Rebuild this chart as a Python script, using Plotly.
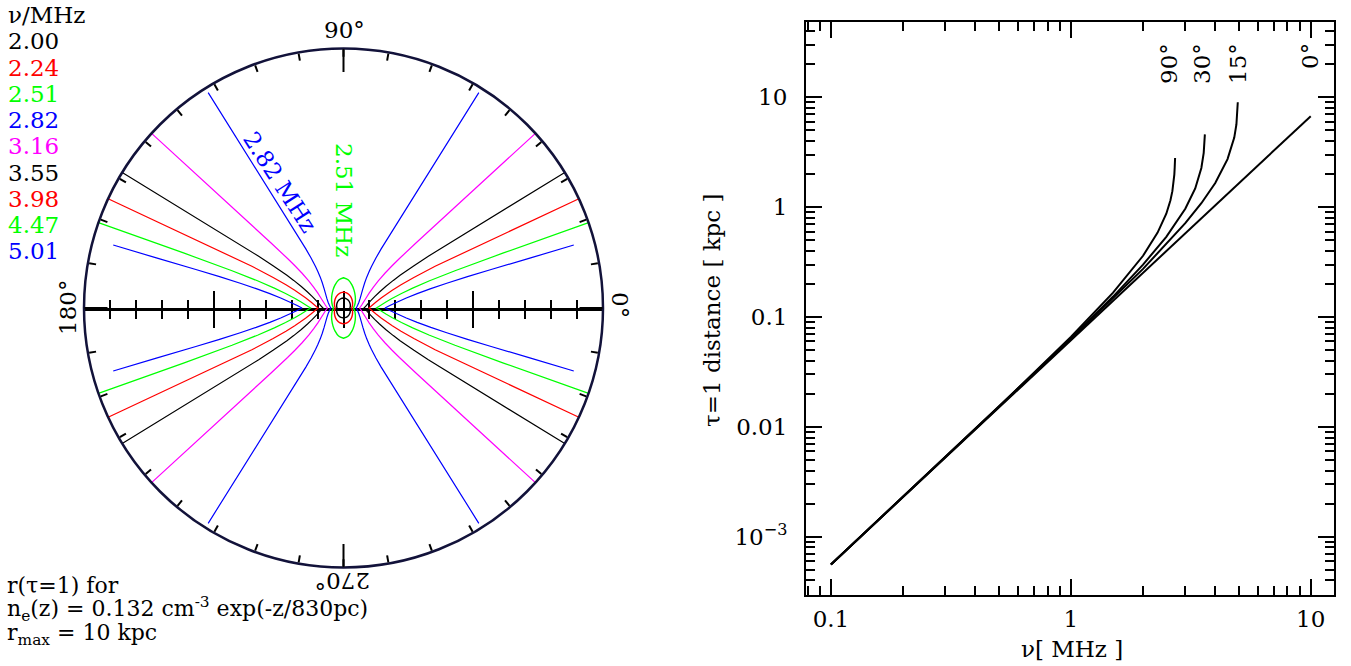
import plotly.graph_objects as go

W, H = 1351, 666
FONT = "DejaVu Serif"

# ---------------- data: left panel (polar, r in kpc vs elevation angle in deg) ----------------
freq_labels = ["2.00", "2.24", "2.51", "2.82", "3.16", "3.55", "3.98", "4.47", "5.01"]
freq_colors = ["black", "red", "#00ff00", "blue", "#ff00ff", "black", "red", "#00ff00", "blue"]

th_200 = [0, 15, 30, 45, 60, 75, 90]
r_200 = [0.25, 0.272, 0.298, 0.326, 0.353, 0.375, 0.383]
th_224 = [0, 15, 30, 45, 60, 75, 90]
r_224 = [0.32, 0.357, 0.404, 0.462, 0.528, 0.587, 0.612]
th_251 = [0, 15, 30, 45, 60, 70, 80, 90]
r_251 = [0.39, 0.447, 0.527, 0.641, 0.806, 0.948, 1.094, 1.166]
th_282 = [0, 5, 10, 20, 30, 40, 45, 50, 53, 55, 56, 57, 57.5, 57.85]
r_282 = [0.49, 0.517, 0.548, 0.628, 0.741, 0.919, 1.057, 1.272, 1.488, 1.731, 1.929, 2.294, 2.69, 9.8]
th_316 = [0, 5, 10, 20, 25, 30, 35, 38, 40, 41, 41.5, 41.9, 42.3]
r_316 = [0.62, 0.664, 0.718, 0.868, 0.980, 1.141, 1.407, 1.701, 2.083, 2.481, 2.878, 3.75, 10.0]
th_355 = [0, 5, 10, 15, 20, 24, 27, 29, 30, 31, 31.4, 31.5]
r_355 = [0.79, 0.864, 0.959, 1.088, 1.277, 1.518, 1.825, 2.194, 2.517, 3.168, 3.83, 10.0]
th_398 = [0, 5, 10, 15, 18, 20, 22, 23.5, 24.5, 24.9]
r_398 = [0.98, 1.098, 1.261, 1.515, 1.757, 2.0, 2.392, 2.956, 3.88, 10.0]
th_447 = [0, 4, 8, 11, 14, 16, 17.5, 18.5, 19.0, 19.2]
r_447 = [1.267, 1.425, 1.65, 1.9, 2.301, 2.773, 3.453, 4.531, 6.52, 10.0]
th_501 = [0, 3, 6, 9, 11, 12.5, 13.5, 14.2, 14.6, 15.0, 15.3]
r_501 = [1.6, 1.787, 2.048, 2.451, 2.893, 3.447, 4.092, 4.928, 5.88, 7.5, 9.2]

closed_curves = [(th_200, r_200), (th_224, r_224), (th_251, r_251)]
open_curves = [(th_282, r_282), (th_316, r_316), (th_355, r_355),
               (th_398, r_398), (th_447, r_447), (th_501, r_501)]

r_max = 10

# ---------------- data: right panel (tau=1 distance vs frequency) ----------------
nu_0 = [0.1, 0.2, 0.5, 1, 2, 5, 10]
r_0 = [5.6e-4, 2.3e-3, 0.0150, 0.0614, 0.252, 1.64, 6.73]
nu_15 = [0.1, 0.5, 1, 2, 3, 3.5, 4, 4.5, 4.8, 4.9, 4.95, 4.965]
r_15 = [5.6e-4, 0.0150, 0.0626, 0.2744, 0.714, 1.085, 1.66, 2.736, 4.30, 5.65, 7.46, 9.0]
nu_30 = [0.1, 0.5, 1, 1.5, 2, 2.5, 3, 3.3, 3.5, 3.58, 3.61, 3.62]
r_30 = [5.6e-4, 0.0151, 0.0637, 0.1535, 0.2995, 0.537, 0.967, 1.48, 2.27, 3.12, 4.03, 4.6]
nu_90 = [0.1, 0.5, 1, 1.5, 2, 2.3, 2.5, 2.6, 2.65, 2.68, 2.70, 2.71, 2.715, 2.72]
r_90 = [5.6e-4, 0.0152, 0.0658, 0.1666, 0.361, 0.586, 0.872, 1.148, 1.398, 1.657, 1.98, 2.30, 2.61, 2.8]
angle_labels = ["90°", "30°", "15°", "0°"]

fig = go.Figure()

# ---- left panel curves (mirrored into the four quadrants) ----
for i, (th, r) in enumerate(closed_curves):
    c = freq_colors[i]
    theta = list(th) + [180 - t for t in th[::-1]] + [180 + t for t in th] + [360 - t for t in th[::-1]]
    rr = list(r) + list(r[::-1]) + list(r) + list(r[::-1])
    fig.add_trace(go.Scatterpolar(r=rr, theta=theta, mode="lines", subplot="polar",
                                  line=dict(color=c, width=1.4, shape="spline"),
                                  showlegend=False, hoverinfo="skip"))
for j, (th, r) in enumerate(open_curves):
    c = freq_colors[3 + j]
    right_t = [t for t in th[::-1]] + [-t for t in th[1:]]
    left_t = [180 - t for t in th[::-1]] + [180 + t for t in th[1:]]
    rr = list(r[::-1]) + list(r[1:])
    for tt in (right_t, left_t):
        fig.add_trace(go.Scatterpolar(r=rr, theta=tt, mode="lines", subplot="polar",
                                      line=dict(color=c, width=1.2),
                                      showlegend=False, hoverinfo="skip"))
# dummy for big-tick overlay polar
fig.add_trace(go.Scatterpolar(r=[0], theta=[0], subplot="polar2", mode="markers",
                              marker=dict(opacity=0), showlegend=False, hoverinfo="skip"))
# dummy traces for the horizontal kpc axis through the centre
for xa in ("x3", "x4"):
    fig.add_trace(go.Scatter(x=[0], y=[0], xaxis=xa, yaxis="y3", mode="markers",
                             marker=dict(opacity=0), showlegend=False, hoverinfo="skip"))

# ---- right panel curves ----
for nu, r in ((nu_0, r_0), (nu_15, r_15), (nu_30, r_30), (nu_90, r_90)):
    fig.add_trace(go.Scatter(x=nu, y=r, mode="lines", xaxis="x", yaxis="y",
                             line=dict(color="black", width=2),
                             showlegend=False, hoverinfo="skip"))

# ---------------- layout ----------------
cx, cy, R = 343.5, 308.0, 259.5
pol_dom_x = [(cx - R) / W, (cx + R) / W]
pol_dom_y = [1 - (cy + R) / H, 1 - (cy - R) / H]

def ann(text, x, y, size=23, color="black", angle=0, xanchor="center"):
    return dict(text=text, x=x / W, y=1 - y / H, xref="paper", yref="paper",
                showarrow=False, textangle=angle, xanchor=xanchor, yanchor="middle",
                font=dict(family=FONT, size=size, color=color))

annotations = [ann("ν/MHz", 6, 15, size=23, xanchor="left")]
for k, (lab, col) in enumerate(zip(freq_labels, freq_colors)):
    annotations.append(ann(lab, 6, 41.5 + 26.2 * k, size=23, color=col, xanchor="left"))
annotations += [
    ann("90°", 344, 30),
    ann("180°", 68, 308, angle=-90),
    ann("0°", 620, 305, angle=90),
    ann("270°", 343, 581, angle=180),
    ann("2.82 MHz", 280, 182, color="blue", angle=57),
    ann("2.51 MHz", 344, 200, color="#00ff00", angle=90),
    ann("r(τ=1) for", 5, 585, size=22, xanchor="left"),
    ann("n<sub>e</sub>(z) = 0.132 cm<sup>-3</sup> exp(-z/830pc)", 5, 609, size=22, xanchor="left"),
    ann("r<sub>max</sub> = 10 kpc", 5, 634, size=22, xanchor="left"),
    ann("τ=1 distance [ kpc ]", 712, 310, angle=-90),
    ann("ν[ MHz ]", 1072, 649),
]
for lab, xp, yp in zip(angle_labels, [1169, 1202, 1238, 1310], [64, 64, 64, 56]):
    annotations.append(ann(lab, xp, yp, angle=-90))

axis_font = dict(family=FONT, size=23, color="black")
minor_x = [m * 10 ** k for k in (-2, -1, 0, 1) for m in range(2, 10)]
minor_y = [m * 10 ** k for k in range(-5, 3) for m in range(2, 10)]

fig.update_layout(
    width=W, height=H, autosize=False,
    margin=dict(l=0, r=0, t=0, b=0),
    paper_bgcolor="white", plot_bgcolor="rgba(0,0,0,0)",
    showlegend=False,
    annotations=annotations,
    polar=dict(
        domain=dict(x=pol_dom_x, y=pol_dom_y),
        bgcolor="rgba(0,0,0,0)",
        radialaxis=dict(visible=False, range=[0, r_max]),
        angularaxis=dict(rotation=0, direction="counterclockwise", tickmode="linear",
                         tick0=0, dtick=10, ticks="inside", ticklen=7, tickwidth=1.5,
                         tickcolor="black", showticklabels=False, showgrid=False,
                         showline=True, linecolor="#12123a", linewidth=2.5),
    ),
    polar2=dict(
        domain=dict(x=pol_dom_x, y=pol_dom_y),
        bgcolor="rgba(0,0,0,0)",
        radialaxis=dict(visible=False, range=[0, r_max]),
        angularaxis=dict(rotation=0, direction="counterclockwise", tickmode="array",
                         tickvals=[0, 90, 180, 270], ticks="inside", ticklen=23, tickwidth=1.5,
                         tickcolor="black", showticklabels=False, showgrid=False,
                         showline=False),
    ),
    xaxis3=dict(domain=pol_dom_x, range=[-r_max, r_max], anchor="y3",
                showline=True, linecolor="black", linewidth=2.5,
                tickmode="array", tickvals=[-5, 0, 5], ticks="outside", ticklen=17,
                tickwidth=1.5, tickcolor="black", showticklabels=False,
                showgrid=False, zeroline=False,
                minor=dict(tickmode="linear", tick0=0, dtick=1, ticks="outside",
                           ticklen=8, tickwidth=1.5, tickcolor="black", showgrid=False)),
    xaxis4=dict(domain=pol_dom_x, range=[-r_max, r_max], anchor="y3", overlaying="x3",
                showline=False,
                tickmode="array", tickvals=[-5, 0, 5], ticks="inside", ticklen=17,
                tickwidth=1.5, tickcolor="black", showticklabels=False,
                showgrid=False, zeroline=False,
                minor=dict(tickmode="linear", tick0=0, dtick=1, ticks="inside",
                           ticklen=8, tickwidth=1.5, tickcolor="black", showgrid=False)),
    yaxis3=dict(domain=[1 - cy / H, 1 - cy / H + 0.02], range=[-1, 1], visible=False,
                anchor="x3"),
    xaxis=dict(type="log", range=[-1.104, 1.097], domain=[806 / W, 1334 / W], anchor="y",
               showline=True, linecolor="black", linewidth=2, mirror="allticks",
               ticks="inside", ticklen=16, tickwidth=1.5, tickcolor="black",
               tickmode="array", tickvals=[0.1, 1, 10], ticktext=["0.1", "1", "10"],
               tickfont=axis_font, showgrid=False, zeroline=False, ticklabelstandoff=2,
               minor=dict(tickmode="array", tickvals=minor_x, ticks="inside", ticklen=9,
                          tickwidth=1.5, tickcolor="black", showgrid=False)),
    yaxis=dict(type="log", range=[-3.53, 1.685], domain=[1 - 595 / H, 1 - 22 / H], anchor="x",
               showline=True, linecolor="black", linewidth=2, mirror="allticks",
               ticks="inside", ticklen=16, tickwidth=1.5, tickcolor="black",
               tickmode="array", tickvals=[1e-3, 0.01, 0.1, 1, 10],
               ticktext=["10<sup>−3</sup>", "0.01", "0.1", "1", "10"],
               tickfont=axis_font, showgrid=False, zeroline=False, ticklabelstandoff=12,
               minor=dict(tickmode="array", tickvals=minor_y, ticks="inside", ticklen=9,
                          tickwidth=1.5, tickcolor="black", showgrid=False)),
)

fig.write_html("out.html", config={"displayModeBar": False},
               post_script="document.body.style.margin='0px';document.body.style.overflow='hidden';")
